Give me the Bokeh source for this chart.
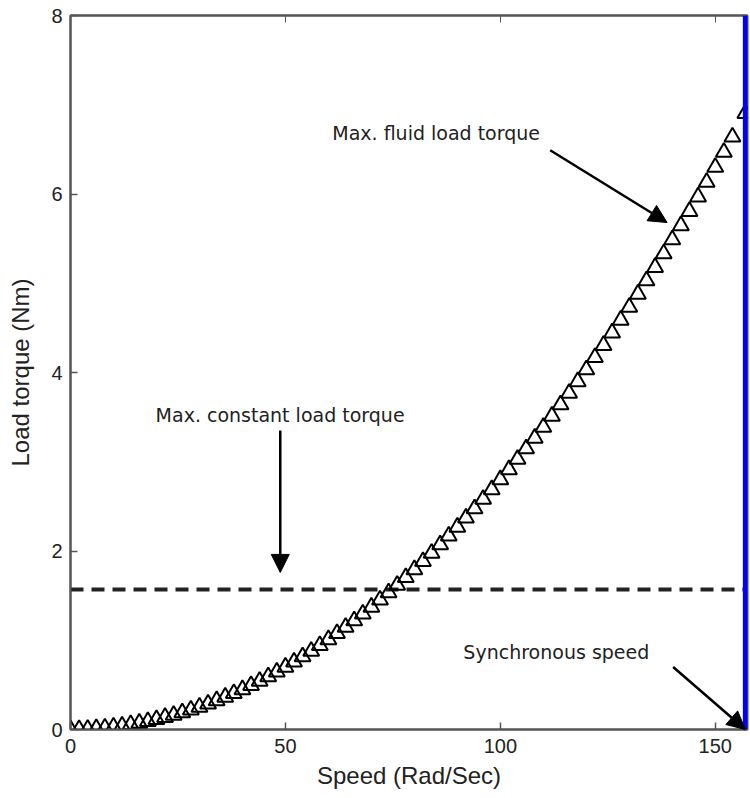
from bokeh.plotting import figure
from bokeh.models import (Range1d, LinearAxis, FixedTicker, Arrow, NormalHead, Label, Span)
from bokeh.embed import file_html
from bokeh.resources import INLINE

# ---- data ----
speed = [0, 2, 4, 6, 8, 10, 12, 14, 16, 18, 20, 22, 24, 26, 28, 30, 32, 34, 36, 38,
         40, 42, 44, 46, 48, 50, 52, 54, 56, 58, 60, 62, 64, 66, 68, 70, 72, 74, 76, 78,
         80, 82, 84, 86, 88, 90, 92, 94, 96, 98, 100, 102, 104, 106, 108, 110, 112, 114,
         116, 118, 120, 122, 124, 126, 128, 130, 132, 134, 136, 138, 140, 142, 144, 146,
         148, 150, 152, 154, 157]
fluid_torque = [0.000, 0.001, 0.004, 0.010, 0.018, 0.028, 0.040, 0.055, 0.072, 0.091,
                0.112, 0.136, 0.161, 0.189, 0.220, 0.252, 0.287, 0.324, 0.363, 0.404,
                0.448, 0.494, 0.542, 0.592, 0.645, 0.700, 0.757, 0.816, 0.878, 0.942,
                1.008, 1.076, 1.147, 1.220, 1.295, 1.372, 1.452, 1.533, 1.617, 1.704,
                1.792, 1.883, 1.976, 2.071, 2.168, 2.268, 2.370, 2.474, 2.580, 2.689,
                2.800, 2.913, 3.028, 3.146, 3.266, 3.388, 3.512, 3.639, 3.768, 3.899,
                4.032, 4.168, 4.305, 4.445, 4.588, 4.732, 4.879, 5.028, 5.179, 5.332,
                5.488, 5.646, 5.806, 5.968, 6.133, 6.300, 6.469, 6.640, 6.902]
constant_speed = [0, 157]
constant_torque = [1.57, 1.57]
sync_speed = 157
x_ticks = [0, 50, 100, 150]
y_ticks = [0, 2, 4, 6, 8]

FONT = "Liberation Sans"
AFONT = "DejaVu Sans"

p = figure(width=750, height=798, output_backend="svg", toolbar_location=None,
           x_range=Range1d(0, 157.5), y_range=Range1d(0, 8),
           min_border_left=70, min_border_right=3, min_border_top=15, min_border_bottom=69,
           x_axis_label="Speed (Rad/Sec)", y_axis_label="Load torque (Nm)")
p.grid.visible = False
p.outline_line_color = "#555555"
p.outline_line_width = 2

for ax in p.xaxis:
    ax.ticker = FixedTicker(ticks=x_ticks)
for ax in p.yaxis:
    ax.ticker = FixedTicker(ticks=y_ticks)

for ax in list(p.xaxis) + list(p.yaxis):
    ax.axis_line_color = "#555555"
    ax.axis_line_width = 2
    ax.major_tick_in = 7
    ax.major_tick_out = 0
    ax.major_tick_line_color = "#555555"
    ax.major_tick_line_width = 1.5
    ax.minor_tick_line_color = None
    ax.major_label_text_font = FONT
    ax.major_label_text_font_size = "20px"
    ax.major_label_text_color = "#222222"
    ax.axis_label_text_font = FONT
    ax.axis_label_text_font_size = "24px"
    ax.axis_label_text_font_style = "normal"
    ax.axis_label_text_color = "#222222"

p.xaxis.major_label_standoff = 9
p.xaxis.axis_label_standoff = 6
p.yaxis.major_label_standoff = 8
p.yaxis.axis_label_standoff = 14

# mirrored ticks on the top edge (box)
top_ax = LinearAxis(ticker=FixedTicker(ticks=x_ticks), major_label_text_color=None,
                    major_label_text_font_size="20px",
                    major_label_standoff=0, major_tick_in=7, major_tick_out=0,
                    major_tick_line_color="#555555", axis_line_color="#555555",
                    axis_line_width=2, minor_tick_line_color=None)
p.add_layout(top_ax, "above")

# constant load torque (dashed)
p.line(constant_speed, constant_torque, line_color="#222222", line_width=4,
       line_dash="13 8")

# fluid load torque (triangles)
p.scatter(speed, fluid_torque, marker="triangle", size=16, line_color="black",
          line_width=2, fill_alpha=0)

# synchronous speed
p.add_layout(Span(location=sync_speed, dimension="height", line_color="#0000ff",
                  line_width=5))

# annotations
def arrow(x0, y0, x1, y1):
    p.add_layout(Arrow(x_start=x0, y_start=y0, x_end=x1, y_end=y1,
                       line_color="black", line_width=2.5,
                       end=NormalHead(size=18, fill_color="black", line_color="black")))

arrow(111.6, 6.49, 138.8, 5.68)
arrow(48.8, 3.35, 48.8, 1.76)
arrow(140.2, 0.70, 157, 0.0)

for txt, x, y in [("Max. fluid load torque", 60.9, 6.68),
                  ("Max. constant load torque", 19.8, 3.52),
                  ("Synchronous speed", 91.4, 0.863)]:
    p.add_layout(Label(x=x, y=y, text=txt, text_font=AFONT, text_font_size="19px",
                       text_color="#222222", text_baseline="middle", text_align="left"))

open("out.html", "w").write(file_html(p, INLINE))
